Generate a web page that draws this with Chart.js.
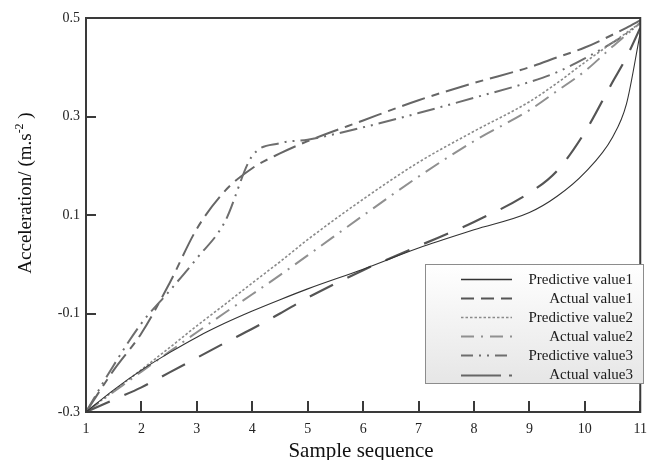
<!DOCTYPE html>
<html><head><meta charset="utf-8">
<script src="https://cdn.jsdelivr.net/npm/chart.js@4.4.1/dist/chart.umd.min.js"></script>
<style>html,body{margin:0;padding:0;background:#fff}</style>
</head><body>
<canvas id="c" width="656" height="460" style="width:656px;height:460px;display:block"></canvas>
<script>
// ---- data ----
const sampleX      = [1, 1.5, 2, 2.5, 3, 3.5, 4, 4.5, 5, 6, 7, 8, 9, 9.5, 10, 10.5, 10.75, 11];
const predictive1  = [-0.3, -0.255, -0.215, -0.18, -0.148, -0.12, -0.095, -0.072, -0.05, -0.01, 0.033, 0.07, 0.105, 0.138, 0.186, 0.258, 0.325, 0.47];
const actual1      = [-0.3, -0.275, -0.25, -0.22, -0.19, -0.16, -0.131, -0.1, -0.068, -0.012, 0.037, 0.086, 0.145, 0.19, 0.268, 0.37, 0.42, 0.48];
const predictive2  = [-0.3, -0.257, -0.214, -0.17, -0.125, -0.082, -0.038, 0.005, 0.05, 0.132, 0.207, 0.27, 0.33, 0.368, 0.41, 0.45, 0.47, 0.49];
const actual2      = [-0.3, -0.259, -0.218, -0.178, -0.138, -0.099, -0.061, -0.022, 0.018, 0.099, 0.178, 0.25, 0.313, 0.352, 0.392, 0.442, 0.466, 0.49];
const predictive3  = [-0.3, -0.205, -0.12, -0.055, 0.012, 0.085, 0.22, 0.246, 0.253, 0.278, 0.307, 0.338, 0.37, 0.39, 0.418, 0.45, 0.468, 0.49];
const actual3      = [-0.3, -0.215, -0.14, -0.04, 0.072, 0.148, 0.195, 0.225, 0.25, 0.292, 0.333, 0.368, 0.4, 0.42, 0.44, 0.466, 0.48, 0.495];
const seriesNames  = ['Predictive value1', 'Actual value1', 'Predictive value2', 'Actual value2', 'Predictive value3', 'Actual value3'];
const xTickValues  = [1, 2, 3, 4, 5, 6, 7, 8, 9, 10, 11];
const xTickLabels  = ['1', '2', '3', '4', '5', '6', '7', '8', '9', '10', '11'];
const yTickValues  = [-0.3, -0.1, 0.1, 0.3, 0.5];
const yTickLabels  = ['-0.3', '-0.1', '0.1', '0.3', '0.5'];
const xTitle = 'Sample sequence';
const yTitleMain = 'Acceleration/ (m.s';
const yTitleSup = '-2';
const yTitleEnd = ' )';

const SERIF = "'Liberation Serif','Times New Roman',serif";

function pts(ys) { return sampleX.map((x, i) => ({ x: x, y: ys[i] })); }

const styles = [
  { color: '#333333', width: 1.1, dash: [], legendDash: [] },
  { color: '#555555', width: 2.2, dash: [26, 16], legendDash: [13, 7] },
  { color: '#8a8a8a', width: 1.6, dash: [2.5, 2], legendDash: [2.5, 2] },
  { color: '#909090', width: 2, dash: [16, 7, 2, 7], legendDash: [13, 7, 2, 7] },
  { color: '#6e6e6e', width: 2, dash: [18, 6, 2, 6, 2, 6], legendDash: [12, 6, 2, 6, 2, 6] },
  { color: '#666666', width: 2, dash: [24, 7, 8, 7], legendDash: [40, 8, 6, 8] }
];
const seriesValues = [predictive1, actual1, predictive2, actual2, predictive3, actual3];

const datasets = seriesValues.map((vals, i) => ({
  label: seriesNames[i],
  data: pts(vals),
  borderColor: styles[i].color,
  borderWidth: styles[i].width,
  borderDash: styles[i].dash,
  legendDash: styles[i].legendDash,
  pointRadius: 0,
  fill: false,
  cubicInterpolationMode: 'monotone'
}));

const decorPlugin = {
  id: 'decor',
  afterDatasetsDraw(chart) {
    const ctx = chart.ctx;
    const a = chart.chartArea;
    const xs = chart.scales.x, ys = chart.scales.y;
    ctx.save();
    // frame
    ctx.strokeStyle = '#3a3a3a';
    ctx.lineWidth = 2;
    ctx.setLineDash([]);
    ctx.strokeRect(a.left, a.top, a.right - a.left, a.bottom - a.top);
    // inward ticks
    ctx.beginPath();
    yTickValues.forEach(v => {
      const py = Math.round(ys.getPixelForValue(v));
      ctx.moveTo(a.left, py); ctx.lineTo(a.left + 10, py);
    });
    xTickValues.forEach(v => {
      const px = Math.round(xs.getPixelForValue(v));
      ctx.moveTo(px, a.bottom); ctx.lineTo(px, a.bottom - 11);
    });
    ctx.stroke();

    // legend
    const L = 425, T = 264, R = 643, B = 383;
    const g = ctx.createLinearGradient(0, T, 0, B);
    g.addColorStop(0, '#ffffff');
    g.addColorStop(1, '#e6e6e6');
    ctx.fillStyle = g;
    ctx.fillRect(L, T, R - L, B - T);
    ctx.strokeStyle = '#8c8c8c';
    ctx.lineWidth = 1;
    ctx.strokeRect(L + 0.5, T + 0.5, R - L, B - T);
    ctx.font = '15px ' + SERIF;
    ctx.textAlign = 'right';
    ctx.textBaseline = 'middle';
    chart.data.datasets.forEach((ds, i) => {
      const cy = 279 + i * 19.1;
      ctx.beginPath();
      ctx.strokeStyle = ds.borderColor;
      ctx.lineWidth = Math.max(ds.borderWidth, 1.5);
      ctx.setLineDash(ds.legendDash);
      ctx.moveTo(461, Math.round(cy) + 0.5);
      ctx.lineTo(512, Math.round(cy) + 0.5);
      ctx.stroke();
      ctx.setLineDash([]);
      ctx.fillStyle = '#1a1a1a';
      ctx.fillText(ds.label, 633, cy + 1);
    });

    // x title
    ctx.fillStyle = '#111111';
    ctx.font = '21px ' + SERIF;
    ctx.textAlign = 'center';
    ctx.textBaseline = 'alphabetic';
    ctx.fillText(xTitle, 361, 457);

    // y title (rotated, with superscript)
    ctx.save();
    ctx.translate(31, 193);
    ctx.rotate(-Math.PI / 2);
    const mainFont = '19px ' + SERIF, supFont = '12px ' + SERIF;
    ctx.font = mainFont; const w1 = ctx.measureText(yTitleMain).width; const w3 = ctx.measureText(yTitleEnd).width;
    ctx.font = supFont; const w2 = ctx.measureText(yTitleSup).width;
    let x0 = -(w1 + w2 + w3) / 2;
    ctx.textAlign = 'left';
    ctx.font = mainFont; ctx.fillText(yTitleMain, x0, 0);
    ctx.font = supFont; ctx.fillText(yTitleSup, x0 + w1, -8);
    ctx.font = mainFont; ctx.fillText(yTitleEnd, x0 + w1 + w2, 0);
    ctx.restore();
    ctx.restore();
  }
};

new Chart(document.getElementById('c'), {
  type: 'line',
  data: { datasets: datasets },
  options: {
    responsive: false,
    animation: false,
    devicePixelRatio: 1,
    layout: { padding: { top: 18, right: 8, left: 0, bottom: 0 } },
    plugins: { legend: { display: false }, tooltip: { enabled: false } },
    scales: {
      x: {
        type: 'linear', min: 1, max: 11,
        afterBuildTicks: s => { s.ticks = xTickValues.map(v => ({ value: v })); },
        afterFit: s => { s.height = 48; },
        grid: { display: false, drawTicks: false },
        border: { display: false },
        ticks: {
          padding: 9, color: '#222',
          font: { family: SERIF, size: 14 },
          maxRotation: 0, autoSkip: false,
          callback: (v) => xTickLabels[xTickValues.indexOf(v)]
        }
      },
      y: {
        type: 'linear', min: -0.3, max: 0.5,
        afterBuildTicks: s => { s.ticks = yTickValues.map(v => ({ value: v })); },
        afterFit: s => { s.width = 86; },
        grid: { display: false, drawTicks: false },
        border: { display: false },
        ticks: {
          padding: 6, color: '#222',
          font: { family: SERIF, size: 14 },
          autoSkip: false,
          callback: (v) => { const i = yTickValues.findIndex(t => Math.abs(t - v) < 1e-9); return i >= 0 ? yTickLabels[i] : ''; }
        }
      }
    }
  },
  plugins: [decorPlugin]
});
</script>
</body></html>
